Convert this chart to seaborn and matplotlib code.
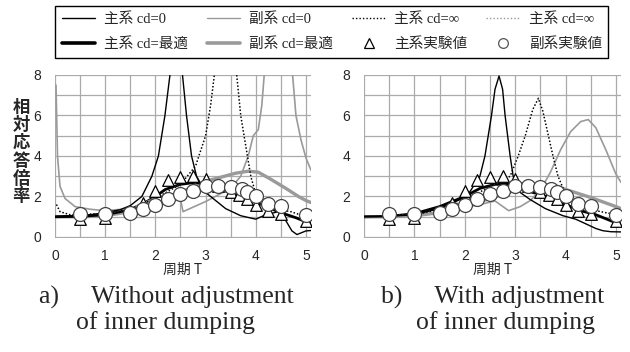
import numpy as np
import pandas as pd
import seaborn as sns
import matplotlib.pyplot as plt
from matplotlib.lines import Line2D
from matplotlib.ticker import MultipleLocator

# ---- panel a) without adjustment ----
a_main0_T = [0, 0.3, 0.7, 1.0, 1.3, 1.5, 1.73, 1.93, 2.06, 2.19, 2.29, 2.42, 2.54, 2.62, 2.72, 2.82, 3.0, 3.2, 3.4, 3.7, 4.0, 4.2, 4.45, 4.6, 4.72, 4.82, 5.0, 5.1]
a_main0_V = [1.0, 1.05, 1.1, 1.2, 1.35, 1.55, 2.0, 3.0, 4.0, 6.0, 8.0, 14, 8.0, 6.0, 4.0, 3.0, 2.2, 1.8, 1.4, 1.05, 0.88, 1.1, 1.25, 0.8, 0.3, 0.12, 0.3, 0.32]

a_sub0_T = [0.02, 0.05, 0.1, 0.2, 0.4, 0.7, 1.0, 1.5, 1.8, 2.0, 2.25, 2.48, 2.55, 3.0, 3.5, 3.7, 3.85, 3.95, 4.05, 4.12, 4.2, 4.45, 4.7, 4.8, 4.9, 5.0, 5.1]
a_sub0_V = [7.5, 4.0, 2.5, 1.9, 1.5, 1.37, 1.3, 1.4, 1.7, 1.95, 2.1, 2.1, 1.25, 1.75, 2.4, 3.0, 4.0, 5.0, 5.3, 6.5, 9.0, 14, 9.0, 6.0, 4.8, 3.9, 3.3]

a_inf_T = [0.03, 0.1, 0.3, 1.0, 1.5, 2.0, 2.5, 2.8, 3.0, 3.1, 3.2, 3.4, 3.6, 3.7, 3.8, 3.9, 4.05, 4.3, 4.7, 5.0, 5.1]
a_inf_V = [1.6, 1.25, 1.1, 1.15, 1.4, 1.9, 2.6, 3.5, 5.0, 6.5, 8.5, 14, 8.5, 6.0, 4.5, 3.0, 1.7, 1.4, 1.25, 1.0, 0.95]

a_mainopt_T = [0, 0.5, 1.0, 1.5, 1.8, 2.0, 2.2, 2.5, 2.8, 3.0, 3.3, 3.6, 3.9, 4.2, 4.5, 4.8, 5.0, 5.1]
a_mainopt_V = [1.0, 1.02, 1.1, 1.35, 1.7, 2.0, 2.35, 2.6, 2.7, 2.6, 2.35, 2.1, 1.85, 1.5, 1.2, 0.95, 0.75, 0.7]

a_subopt_T = [0, 0.5, 1.0, 1.5, 2.0, 2.5, 3.0, 3.3, 3.6, 3.85, 4.05, 4.3, 4.6, 4.85, 5.0, 5.1]
a_subopt_V = [1.0, 1.0, 1.05, 1.25, 1.6, 2.2, 2.75, 2.95, 3.15, 3.25, 3.2, 2.85, 2.4, 2.0, 1.8, 1.7]

# ---- panel b) with adjustment ----
b_main0_T = [0, 0.5, 1.0, 1.5, 2.04, 2.3, 2.4, 2.53, 2.6, 2.68, 2.75, 2.8, 2.9, 2.96, 3.1, 3.29, 3.6, 3.95, 4.2, 4.41, 4.6, 4.74, 4.9, 5.1]
b_main0_V = [1.0, 1.02, 1.1, 1.4, 2.0, 3.0, 4.0, 6.0, 7.3, 7.95, 7.3, 6.0, 4.0, 3.0, 2.2, 1.86, 1.4, 1.05, 0.88, 0.64, 0.42, 0.31, 0.26, 0.25]

b_sub0_T = [0, 0.5, 1.0, 1.5, 2.0, 2.3, 2.6, 2.87, 3.1, 3.3, 3.5, 3.7, 3.9, 4.1, 4.3, 4.45, 4.6, 4.8, 5.0, 5.1]
b_sub0_V = [1.0, 1.0, 1.05, 1.2, 1.45, 1.6, 1.78, 1.3, 1.5, 1.8, 2.3, 3.2, 4.3, 5.2, 5.7, 5.8, 5.4, 4.3, 3.1, 2.7]

b_inf_T = [0, 1.0, 1.5, 2.0, 2.5, 2.9, 3.06, 3.2, 3.35, 3.46, 3.55, 3.75, 3.85, 4.02, 4.3, 4.6, 5.0, 5.1]
b_inf_V = [1.0, 1.1, 1.35, 1.8, 2.5, 3.0, 4.0, 5.0, 6.3, 6.85, 6.2, 4.0, 3.0, 2.0, 1.6, 1.3, 1.1, 1.05]

b_mainopt_T = [0, 0.5, 1.0, 1.5, 2.0, 2.3, 2.6, 2.9, 3.2, 3.5, 3.8, 4.0, 4.3, 4.6, 5.0, 5.1]
b_mainopt_V = [1.0, 1.02, 1.15, 1.5, 2.0, 2.4, 2.6, 2.6, 2.3, 2.1, 1.8, 1.6, 1.3, 1.1, 0.7, 0.65]

b_subopt_T = [0, 0.5, 1.0, 1.5, 2.0, 2.5, 3.0, 3.3, 3.6, 3.82, 4.0, 4.5, 5.0, 5.1]
b_subopt_V = [1.0, 1.0, 1.05, 1.2, 1.5, 1.9, 2.3, 2.5, 2.55, 2.52, 2.35, 1.95, 1.5, 1.4]

# ---- experimental values (same in both panels) ----
exp_main_T = [0.5, 1.0, 1.5, 1.75, 2.0, 2.25, 2.5, 2.75, 3.0, 3.25, 3.5, 3.67, 3.83, 4.0, 4.25, 4.5, 5.0]
exp_main_V = [0.9, 0.95, 1.3, 1.7, 2.27, 2.8, 2.94, 3.0, 2.86, 2.5, 2.22, 2.05, 1.88, 1.58, 1.3, 1.13, 0.8]
exp_sub_T = [0.5, 1.0, 1.5, 1.75, 2.0, 2.25, 2.5, 2.75, 3.0, 3.25, 3.5, 3.72, 3.83, 4.0, 4.25, 4.5, 5.0]
exp_sub_V = [1.13, 1.13, 1.2, 1.37, 1.6, 1.86, 2.1, 2.27, 2.5, 2.52, 2.47, 2.38, 2.2, 2.02, 1.62, 1.55, 1.07]

legend_labels = ["主系 cd=0", "副系 cd=0", "主系 cd=∞", "主系 cd=∞",
                 "主系 cd=最適", "副系 cd=最適", "主系実験値", "副系実験値"]

GREY = "#9a9a9a"
sns.set_theme(style="white")
plt.rcParams['font.family'] = ['Liberation Sans', 'Noto Sans CJK JP']

fig = plt.figure(figsize=(6.3, 3.52), dpi=100)
ax_a = fig.add_axes([55/630, 1-238/352, 256/630, 163/352])
ax_b = fig.add_axes([364/630, 1-238/352, 257/630, 163/352])

panels = [
    (ax_a, a_main0_T, a_main0_V, a_sub0_T, a_sub0_V, a_inf_T, a_inf_V,
     a_mainopt_T, a_mainopt_V, a_subopt_T, a_subopt_V),
    (ax_b, b_main0_T, b_main0_V, b_sub0_T, b_sub0_V, b_inf_T, b_inf_V,
     b_mainopt_T, b_mainopt_V, b_subopt_T, b_subopt_V),
]

for ax, m0T, m0V, s0T, s0V, iT, iV, moT, moV, soT, soV in panels:
    sns.lineplot(x=soT, y=soV, ax=ax, color=GREY, lw=2.4, zorder=3)
    sns.lineplot(x=moT, y=moV, ax=ax, color="black", lw=2.0, zorder=3)
    sns.lineplot(x=s0T, y=s0V, ax=ax, color=GREY, lw=1.2, zorder=3)
    sns.lineplot(x=iT, y=iV, ax=ax, color=GREY, lw=1.0, ls=(0, (1, 1.5)), zorder=3)
    sns.lineplot(x=iT, y=iV, ax=ax, color="black", lw=1.0, ls=(0, (1, 1.5)), zorder=3)
    sns.lineplot(x=m0T, y=m0V, ax=ax, color="black", lw=1.0, zorder=3)
    sns.scatterplot(x=exp_main_T, y=exp_main_V, ax=ax, marker="^", s=70,
                    facecolor="white", edgecolor="black", linewidth=0.9, zorder=4)
    sns.scatterplot(x=exp_sub_T, y=exp_sub_V, ax=ax, marker="o", s=100,
                    facecolor="white", edgecolor="#444444", linewidth=0.9, zorder=5)

    ax.set_xlim(0, 5.1)
    ax.set_ylim(-0.05, 8)
    ax.xaxis.set_major_locator(MultipleLocator(1))
    ax.xaxis.set_minor_locator(MultipleLocator(0.5))
    ax.yaxis.set_major_locator(MultipleLocator(2))
    ax.yaxis.set_minor_locator(MultipleLocator(1))
    ax.grid(True, which="both", color="#aaaaaa", lw=0.9, zorder=0)
    ax.set_axisbelow(True)
    for sp in ax.spines.values():
        sp.set_visible(False)
    ax.tick_params(which="both", length=0, labelsize=10)
    ax.tick_params(axis="x", pad=8)
    ax.tick_params(axis="y", pad=10)
    ax.set_xlabel("周期 T", fontsize=10, labelpad=0, family=['Noto Sans CJK JP'])
    ax.set_ylabel("")

# vertical y label
fig.text(21/630, 1-152/352, "\n".join("相対応答倍率"), fontsize=12.5, fontweight="bold",
         ha="center", va="center", linespacing=0.98, family=['Noto Sans CJK JP'])

# captions
cap_font = ['Liberation Serif']
fig.text(166/630, 1-297/352, "a)     Without adjustment", fontsize=18.5, ha="center", va="center", family=cap_font)
fig.text(165/630, 1-323/352, "of inner dumping", fontsize=18.5, ha="center", va="center", family=cap_font)
fig.text(493/630, 1-297/352, "b)     With adjustment", fontsize=18.5, ha="center", va="center", family=cap_font)
fig.text(505/630, 1-323/352, "of inner dumping", fontsize=18.5, ha="center", va="center", family=cap_font)

# legend
h = [
    Line2D([], [], color="black", lw=1.0),
    Line2D([], [], color=GREY, lw=1.0),
    Line2D([], [], color="black", lw=1.0, ls=(0, (1, 1.5))),
    Line2D([], [], color=GREY, lw=1.0, ls=(0, (1, 1.5))),
    Line2D([], [], color="black", lw=2.6),
    Line2D([], [], color=GREY, lw=2.6),
    Line2D([], [], ls="none", marker="^", mfc="white", mec="black", ms=7, mew=0.9),
    Line2D([], [], ls="none", marker="o", mfc="white", mec="#555555", ms=7, mew=0.9),
]
order = [0, 4, 1, 5, 2, 6, 3, 7]
leg = fig.legend([h[i] for i in order], [legend_labels[i] for i in order],
                 ncol=4, loc="upper left", bbox_to_anchor=(55/630, 1-6/352),
                 frameon=True, fancybox=False, edgecolor="black", framealpha=1,
                 handlelength=2.3, handletextpad=0.6, columnspacing=1.3,
                 labelspacing=0.75, borderpad=0.45, borderaxespad=0,
                 prop={'family': ['Liberation Serif', 'Noto Sans CJK JP'], 'size': 10.5})
leg.get_frame().set_linewidth(1.0)

fig.savefig("out.png", dpi=100)
